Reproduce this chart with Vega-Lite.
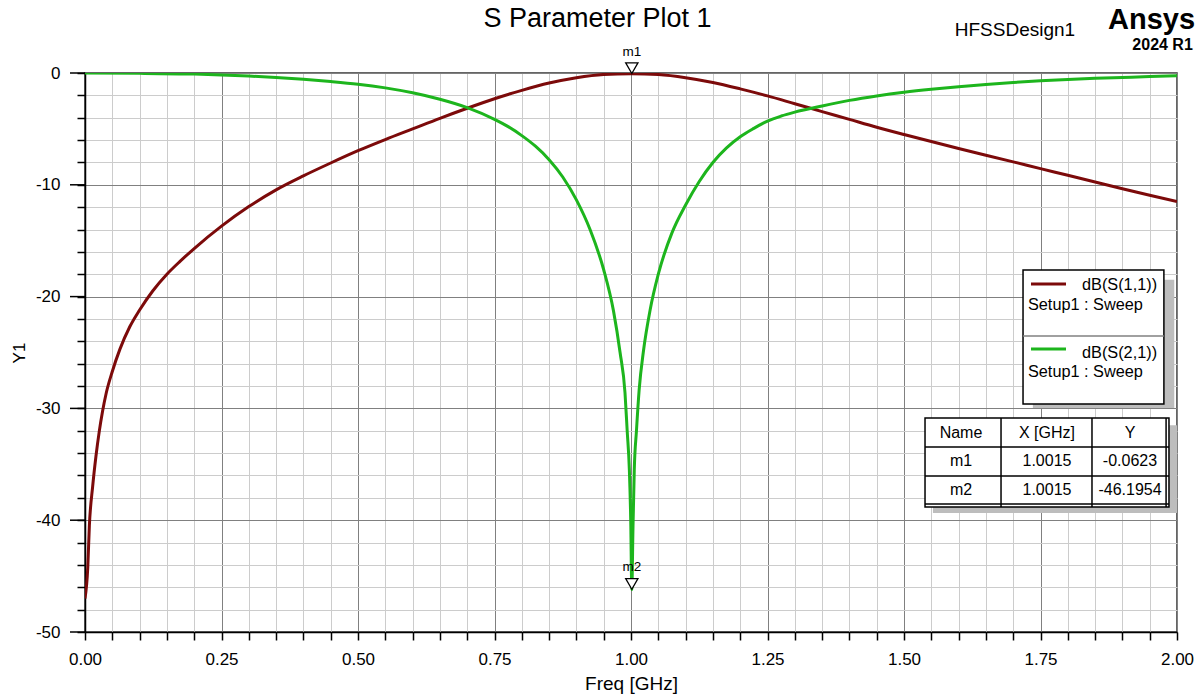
{
  "$schema": "https://vega.github.io/schema/vega-lite/v6.json",
  "width": 1092,
  "height": 559,
  "autosize": {"type": "none"},
  "padding": {"left": 85, "top": 73, "right": 21, "bottom": 65},
  "background": "white",
  "config": {
    "view": {"stroke": "#333333", "strokeWidth": 1.5},
    "font": "Liberation Sans",
    "text": {"font": "Liberation Sans", "color": "black"}
  },
  "datasets": {
    "curves": [
      {"series": "dB(S(1,1))", "x": 0.0, "y": -47.0},
      {"series": "dB(S(1,1))", "x": 0.005, "y": -44.3},
      {"series": "dB(S(1,1))", "x": 0.008, "y": -40.5},
      {"series": "dB(S(1,1))", "x": 0.014, "y": -37.0},
      {"series": "dB(S(1,1))", "x": 0.02, "y": -34.3},
      {"series": "dB(S(1,1))", "x": 0.026, "y": -32.1},
      {"series": "dB(S(1,1))", "x": 0.032, "y": -30.3},
      {"series": "dB(S(1,1))", "x": 0.039, "y": -28.6},
      {"series": "dB(S(1,1))", "x": 0.05, "y": -26.7},
      {"series": "dB(S(1,1))", "x": 0.064, "y": -24.7},
      {"series": "dB(S(1,1))", "x": 0.082, "y": -22.7},
      {"series": "dB(S(1,1))", "x": 0.1, "y": -21.2},
      {"series": "dB(S(1,1))", "x": 0.124, "y": -19.5},
      {"series": "dB(S(1,1))", "x": 0.15, "y": -18.0},
      {"series": "dB(S(1,1))", "x": 0.174, "y": -16.85},
      {"series": "dB(S(1,1))", "x": 0.2, "y": -15.7},
      {"series": "dB(S(1,1))", "x": 0.25, "y": -13.7},
      {"series": "dB(S(1,1))", "x": 0.3, "y": -11.95},
      {"series": "dB(S(1,1))", "x": 0.35, "y": -10.45},
      {"series": "dB(S(1,1))", "x": 0.4, "y": -9.2},
      {"series": "dB(S(1,1))", "x": 0.45, "y": -8.05},
      {"series": "dB(S(1,1))", "x": 0.5, "y": -6.95},
      {"series": "dB(S(1,1))", "x": 0.55, "y": -5.95},
      {"series": "dB(S(1,1))", "x": 0.6, "y": -5.0},
      {"series": "dB(S(1,1))", "x": 0.65, "y": -4.05},
      {"series": "dB(S(1,1))", "x": 0.7, "y": -3.15},
      {"series": "dB(S(1,1))", "x": 0.75, "y": -2.3},
      {"series": "dB(S(1,1))", "x": 0.8, "y": -1.55},
      {"series": "dB(S(1,1))", "x": 0.85, "y": -0.9},
      {"series": "dB(S(1,1))", "x": 0.9, "y": -0.42},
      {"series": "dB(S(1,1))", "x": 0.95, "y": -0.13},
      {"series": "dB(S(1,1))", "x": 1.0, "y": -0.06},
      {"series": "dB(S(1,1))", "x": 1.05, "y": -0.14},
      {"series": "dB(S(1,1))", "x": 1.1, "y": -0.42},
      {"series": "dB(S(1,1))", "x": 1.15, "y": -0.85},
      {"series": "dB(S(1,1))", "x": 1.2, "y": -1.42},
      {"series": "dB(S(1,1))", "x": 1.25, "y": -2.05},
      {"series": "dB(S(1,1))", "x": 1.3, "y": -2.75},
      {"series": "dB(S(1,1))", "x": 1.35, "y": -3.45},
      {"series": "dB(S(1,1))", "x": 1.4, "y": -4.15},
      {"series": "dB(S(1,1))", "x": 1.45, "y": -4.85},
      {"series": "dB(S(1,1))", "x": 1.5, "y": -5.5},
      {"series": "dB(S(1,1))", "x": 1.55, "y": -6.13},
      {"series": "dB(S(1,1))", "x": 1.6, "y": -6.75},
      {"series": "dB(S(1,1))", "x": 1.65, "y": -7.35},
      {"series": "dB(S(1,1))", "x": 1.7, "y": -7.95},
      {"series": "dB(S(1,1))", "x": 1.75, "y": -8.55},
      {"series": "dB(S(1,1))", "x": 1.8, "y": -9.15},
      {"series": "dB(S(1,1))", "x": 1.85, "y": -9.75},
      {"series": "dB(S(1,1))", "x": 1.9, "y": -10.35},
      {"series": "dB(S(1,1))", "x": 1.95, "y": -10.93},
      {"series": "dB(S(1,1))", "x": 2.0, "y": -11.5},
      {"series": "dB(S(2,1))", "x": 0.0, "y": 0.0},
      {"series": "dB(S(2,1))", "x": 0.1, "y": -0.03},
      {"series": "dB(S(2,1))", "x": 0.2, "y": -0.1},
      {"series": "dB(S(2,1))", "x": 0.25, "y": -0.17},
      {"series": "dB(S(2,1))", "x": 0.3, "y": -0.27},
      {"series": "dB(S(2,1))", "x": 0.35, "y": -0.4},
      {"series": "dB(S(2,1))", "x": 0.4, "y": -0.56},
      {"series": "dB(S(2,1))", "x": 0.45, "y": -0.76},
      {"series": "dB(S(2,1))", "x": 0.5, "y": -1.0},
      {"series": "dB(S(2,1))", "x": 0.55, "y": -1.33},
      {"series": "dB(S(2,1))", "x": 0.6, "y": -1.77},
      {"series": "dB(S(2,1))", "x": 0.65, "y": -2.35},
      {"series": "dB(S(2,1))", "x": 0.7, "y": -3.1},
      {"series": "dB(S(2,1))", "x": 0.75, "y": -4.15},
      {"series": "dB(S(2,1))", "x": 0.775, "y": -4.8},
      {"series": "dB(S(2,1))", "x": 0.8, "y": -5.6},
      {"series": "dB(S(2,1))", "x": 0.825, "y": -6.55},
      {"series": "dB(S(2,1))", "x": 0.85, "y": -7.75},
      {"series": "dB(S(2,1))", "x": 0.875, "y": -9.3},
      {"series": "dB(S(2,1))", "x": 0.9, "y": -11.35},
      {"series": "dB(S(2,1))", "x": 0.925, "y": -14.0},
      {"series": "dB(S(2,1))", "x": 0.95, "y": -17.6},
      {"series": "dB(S(2,1))", "x": 0.968, "y": -21.3},
      {"series": "dB(S(2,1))", "x": 0.98, "y": -25.0},
      {"series": "dB(S(2,1))", "x": 0.989, "y": -28.6},
      {"series": "dB(S(2,1))", "x": 0.993, "y": -32.0},
      {"series": "dB(S(2,1))", "x": 0.997, "y": -35.5},
      {"series": "dB(S(2,1))", "x": 0.9995, "y": -40.0},
      {"series": "dB(S(2,1))", "x": 1.0015, "y": -46.2},
      {"series": "dB(S(2,1))", "x": 1.0035, "y": -41.0},
      {"series": "dB(S(2,1))", "x": 1.006, "y": -35.5},
      {"series": "dB(S(2,1))", "x": 1.01, "y": -32.0},
      {"series": "dB(S(2,1))", "x": 1.015, "y": -28.3},
      {"series": "dB(S(2,1))", "x": 1.023, "y": -24.8},
      {"series": "dB(S(2,1))", "x": 1.035, "y": -21.2},
      {"series": "dB(S(2,1))", "x": 1.05, "y": -18.0},
      {"series": "dB(S(2,1))", "x": 1.075, "y": -14.3},
      {"series": "dB(S(2,1))", "x": 1.1, "y": -11.8},
      {"series": "dB(S(2,1))", "x": 1.125, "y": -9.7},
      {"series": "dB(S(2,1))", "x": 1.15, "y": -8.0},
      {"series": "dB(S(2,1))", "x": 1.175, "y": -6.7},
      {"series": "dB(S(2,1))", "x": 1.2, "y": -5.7},
      {"series": "dB(S(2,1))", "x": 1.225, "y": -4.95},
      {"series": "dB(S(2,1))", "x": 1.25, "y": -4.3},
      {"series": "dB(S(2,1))", "x": 1.275, "y": -3.85},
      {"series": "dB(S(2,1))", "x": 1.3, "y": -3.5},
      {"series": "dB(S(2,1))", "x": 1.35, "y": -2.95},
      {"series": "dB(S(2,1))", "x": 1.4, "y": -2.45},
      {"series": "dB(S(2,1))", "x": 1.45, "y": -2.05},
      {"series": "dB(S(2,1))", "x": 1.5, "y": -1.72},
      {"series": "dB(S(2,1))", "x": 1.55, "y": -1.45},
      {"series": "dB(S(2,1))", "x": 1.6, "y": -1.22},
      {"series": "dB(S(2,1))", "x": 1.65, "y": -1.02},
      {"series": "dB(S(2,1))", "x": 1.7, "y": -0.85},
      {"series": "dB(S(2,1))", "x": 1.75, "y": -0.7},
      {"series": "dB(S(2,1))", "x": 1.8, "y": -0.58},
      {"series": "dB(S(2,1))", "x": 1.85, "y": -0.48},
      {"series": "dB(S(2,1))", "x": 1.9, "y": -0.4},
      {"series": "dB(S(2,1))", "x": 1.95, "y": -0.32},
      {"series": "dB(S(2,1))", "x": 2.0, "y": -0.25}
    ],
    "shadows": [
      {"x": 1.736, "x2": 1.995, "y": -18.5, "y2": -29.96},
      {"x": 1.553, "x2": 2.0, "y": -31.5, "y2": -39.36}
    ],
    "boxes": [
      {"x": 1.718, "x2": 1.976, "y": -17.62, "y2": -29.61},
      {"x": 1.5385, "x2": 1.9853, "y": -30.86, "y2": -38.82}
    ],
    "rules": [
      {"x": 1.718, "x2": 1.976, "y": -23.52, "y2": -23.52, "c": "#808080"},
      {"x": 1.5385, "x2": 1.9853, "y": -33.45, "y2": -33.45, "c": "black"},
      {"x": 1.5385, "x2": 1.9853, "y": -36.05, "y2": -36.05, "c": "black"},
      {"x": 1.5385, "x2": 1.9853, "y": -38.55, "y2": -38.55, "c": "black"},
      {"x": 1.6777, "x2": 1.6777, "y": -30.86, "y2": -38.82, "c": "black"},
      {"x": 1.8443, "x2": 1.8443, "y": -30.86, "y2": -38.82, "c": "black"},
      {"x": 1.98, "x2": 1.98, "y": -30.86, "y2": -38.82, "c": "black"},
      {"x": -0.0275, "x2": 0, "y": 0, "y2": 0, "c": "black"},
      {"x": -0.0275, "x2": 0, "y": -10, "y2": -10, "c": "black"},
      {"x": -0.0275, "x2": 0, "y": -20, "y2": -20, "c": "black"},
      {"x": -0.0275, "x2": 0, "y": -30, "y2": -30, "c": "black"},
      {"x": -0.0275, "x2": 0, "y": -40, "y2": -40, "c": "black"},
      {"x": -0.0275, "x2": 0, "y": -50, "y2": -50, "c": "black"}
    ],
    "legendlines": [
      {"series": "dB(S(1,1))", "x": 1.7326, "x2": 1.7967, "y": -18.87},
      {"series": "dB(S(2,1))", "x": 1.7326, "x2": 1.7967, "y": -24.69}
    ],
    "textLeft": [
      {"x": 1.826, "y": -18.96, "t": "dB(S(1,1))", "s": 16.3},
      {"x": 1.727, "y": -20.75, "t": "Setup1 : Sweep", "s": 16.3},
      {"x": 1.826, "y": -25.04, "t": "dB(S(2,1))", "s": 16.3},
      {"x": 1.727, "y": -26.74, "t": "Setup1 : Sweep", "s": 16.3},
      {"x": 1.593, "y": 3.85, "t": "HFSSDesign1", "s": 19}
    ],
    "textCenter": [
      {"x": 1.6044, "y": -32.2, "t": "Name", "s": 16},
      {"x": 1.7619, "y": -32.2, "t": "X [GHz]", "s": 16},
      {"x": 1.9139, "y": -32.2, "t": "Y", "s": 16},
      {"x": 1.6044, "y": -34.7, "t": "m1", "s": 16},
      {"x": 1.7619, "y": -34.7, "t": "1.0015", "s": 16},
      {"x": 1.9139, "y": -34.7, "t": "-0.0623", "s": 16},
      {"x": 1.6044, "y": -37.3, "t": "m2", "s": 16},
      {"x": 1.7619, "y": -37.3, "t": "1.0015", "s": 16},
      {"x": 1.9139, "y": -37.3, "t": "-46.1954", "s": 16},
      {"x": 0.9386, "y": 4.85, "t": "S Parameter Plot 1", "s": 27}
    ],
    "textBold": [
      {"x": 2.033, "y": 4.74, "t": "Ansys", "s": 29},
      {"x": 2.029, "y": 2.5, "t": "2024 R1", "s": 16}
    ],
    "markers": [
      {"name": "m1", "x": 1.0015, "y": -0.0623},
      {"name": "m2", "x": 1.0015, "y": -46.1954}
    ]
  },
  "encoding": {
    "x": {
      "field": "x", "type": "quantitative",
      "scale": {"domain": [0, 2], "nice": false, "zero": false},
      "axis": {
        "title": "Freq [GHz]",
        "values": [0, 0.05, 0.1, 0.15, 0.2, 0.25, 0.3, 0.35, 0.4, 0.45, 0.5, 0.55, 0.6, 0.65, 0.7, 0.75, 0.8, 0.85, 0.9, 0.95, 1.0, 1.05, 1.1, 1.15, 1.2, 1.25, 1.3, 1.35, 1.4, 1.45, 1.5, 1.55, 1.6, 1.65, 1.7, 1.75, 1.8, 1.85, 1.9, 1.95, 2.0],
        "labelExpr": "abs(datum.value*4 - round(datum.value*4)) < 0.001 ? format(datum.value, '.2f') : ''",
        "labelFont": "Liberation Sans", "labelFontSize": 17, "labelColor": "black",
        "labelPadding": 11, "labelFlush": false, "labelOverlap": false,
        "titleFont": "Liberation Sans", "titleFontSize": 19, "titleFontWeight": "normal", "titleColor": "black", "titlePadding": 7,
        "domainColor": "black", "domainWidth": 1.5,
        "tickColor": "black", "tickSize": 8, "tickWidth": 1.5,
        "grid": true,
        "gridColor": {"condition": {"test": "abs(datum.value*4 - round(datum.value*4)) < 0.001", "value": "#808080"}, "value": "#cccccc"},
        "gridWidth": 1
      }
    },
    "y": {
      "field": "y", "type": "quantitative",
      "scale": {"domain": [-50, 0], "nice": false, "zero": false},
      "axis": {
        "title": "Y1",
        "values": [-50, -48, -46, -44, -42, -40, -38, -36, -34, -32, -30, -28, -26, -24, -22, -20, -18, -16, -14, -12, -10, -8, -6, -4, -2, 0],
        "labelExpr": "datum.value % 10 == 0 ? '' + datum.value : ''",
        "labelFont": "Liberation Sans", "labelFontSize": 17, "labelColor": "black",
        "labelPadding": 17, "labelFlush": false, "labelOverlap": false,
        "titleFont": "Liberation Sans", "titleFontSize": 17, "titleFontWeight": "normal", "titleColor": "black", "titlePadding": 7,
        "domainColor": "black", "domainWidth": 1.5,
        "tickColor": "black", "tickSize": 8, "tickWidth": 1.5,
        "grid": true,
        "gridColor": {"condition": {"test": "datum.value % 10 == 0", "value": "#808080"}, "value": "#cccccc"},
        "gridWidth": 1
      }
    }
  },
  "layer": [
    {
      "data": {"name": "curves"},
      "mark": {"type": "line", "strokeWidth": 3, "clip": true, "interpolate": "monotone"},
      "encoding": {
        "color": {
          "field": "series", "type": "nominal",
          "scale": {"domain": ["dB(S(1,1))", "dB(S(2,1))"], "range": ["#7c0a0a", "#1db51d"]},
          "legend": null
        }
      }
    },
    {
      "data": {"name": "shadows"},
      "mark": {"type": "rect", "fill": "#bdbdbd"},
      "encoding": {"x2": {"field": "x2"}, "y2": {"field": "y2"}}
    },
    {
      "data": {"name": "boxes"},
      "mark": {"type": "rect", "fill": "white", "stroke": "black", "strokeWidth": 1.5},
      "encoding": {"x2": {"field": "x2"}, "y2": {"field": "y2"}}
    },
    {
      "data": {"name": "rules"},
      "mark": {"type": "rule", "strokeWidth": 1.5},
      "encoding": {
        "x2": {"field": "x2"},
        "y2": {"field": "y2"},
        "stroke": {"field": "c", "type": "nominal", "scale": null}
      }
    },
    {
      "data": {"name": "legendlines"},
      "mark": {"type": "rule", "strokeWidth": 3},
      "encoding": {
        "x2": {"field": "x2"},
        "color": {"field": "series", "type": "nominal", "legend": null}
      }
    },
    {
      "data": {"name": "textLeft"},
      "mark": {"type": "text", "baseline": "middle", "align": "left", "font": "Liberation Sans", "color": "black"},
      "encoding": {
        "text": {"field": "t"},
        "size": {"field": "s", "type": "quantitative", "scale": null}
      }
    },
    {
      "data": {"name": "textCenter"},
      "mark": {"type": "text", "baseline": "middle", "align": "center", "font": "Liberation Sans", "color": "black"},
      "encoding": {
        "text": {"field": "t"},
        "size": {"field": "s", "type": "quantitative", "scale": null}
      }
    },
    {
      "data": {"name": "textBold"},
      "mark": {"type": "text", "baseline": "middle", "align": "right", "font": "Liberation Sans", "fontWeight": "bold", "color": "black"},
      "encoding": {
        "text": {"field": "t"},
        "size": {"field": "s", "type": "quantitative", "scale": null}
      }
    },
    {
      "data": {"name": "markers"},
      "mark": {"type": "point", "shape": "triangle-down", "filled": true, "fill": "white", "stroke": "black", "strokeWidth": 1.3, "size": 150, "yOffset": -5.5, "opacity": 1}
    },
    {
      "data": {"name": "markers"},
      "mark": {"type": "text", "dy": -22, "baseline": "middle", "align": "center", "fontSize": 13.5, "font": "Liberation Sans", "color": "black"},
      "encoding": {"text": {"field": "name"}}
    }
  ]
}
